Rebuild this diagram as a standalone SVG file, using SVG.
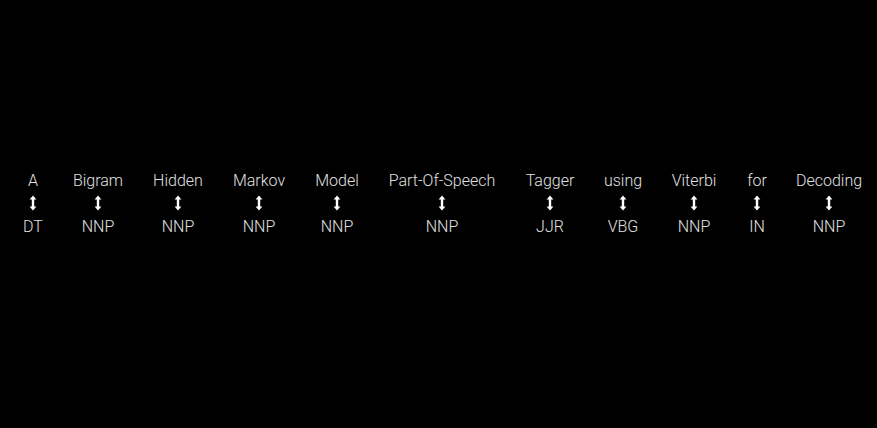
<svg xmlns="http://www.w3.org/2000/svg" xmlns:xlink="http://www.w3.org/1999/xlink" width="877" height="428" viewBox="0 0 877 428">
<style>
text{font-family:Roboto,"Liberation Sans",sans-serif;font-size:16px;font-weight:300;fill:#e0e0e0;text-anchor:middle}
.arr{fill:#ffffff}
</style>
<defs>
<path id="dbl" class="arr" d="M0,-7.5 L3.4,-3.6 L1.2,-3.6 L1.2,3.6 L3.4,3.6 L0,7.5 L-3.4,3.6 L-1.2,3.6 L-1.2,-3.6 L-3.4,-3.6 Z"/>
</defs>
<rect width="877" height="428" fill="#000"/>
<g id="connectors">
<use xlink:href="#dbl" x="33" y="203"/>
<use xlink:href="#dbl" x="98" y="203"/>
<use xlink:href="#dbl" x="178" y="203"/>
<use xlink:href="#dbl" x="259" y="203"/>
<use xlink:href="#dbl" x="337" y="203"/>
<use xlink:href="#dbl" x="442" y="203"/>
<use xlink:href="#dbl" x="550" y="203"/>
<use xlink:href="#dbl" x="623" y="203"/>
<use xlink:href="#dbl" x="694" y="203"/>
<use xlink:href="#dbl" x="757" y="203"/>
<use xlink:href="#dbl" x="829" y="203"/>
</g>
<g id="w1"><text x="33" y="186">A</text><text x="33" y="232">DT</text></g>
<g id="w2"><text x="98" y="186">Bigram</text><text x="98" y="232">NNP</text></g>
<g id="w3"><text x="178" y="186">Hidden</text><text x="178" y="232">NNP</text></g>
<g id="w4"><text x="259" y="186">Markov</text><text x="259" y="232">NNP</text></g>
<g id="w5"><text x="337" y="186">Model</text><text x="337" y="232">NNP</text></g>
<g id="w6"><text x="442" y="186">Part-Of-Speech</text><text x="442" y="232">NNP</text></g>
<g id="w7"><text x="550" y="186">Tagger</text><text x="550" y="232">JJR</text></g>
<g id="w8"><text x="623" y="186">using</text><text x="623" y="232">VBG</text></g>
<g id="w9"><text x="694" y="186">Viterbi</text><text x="694" y="232">NNP</text></g>
<g id="w10"><text x="757" y="186">for</text><text x="757" y="232">IN</text></g>
<g id="w11"><text x="829" y="186">Decoding</text><text x="829" y="232">NNP</text></g>
</svg>
